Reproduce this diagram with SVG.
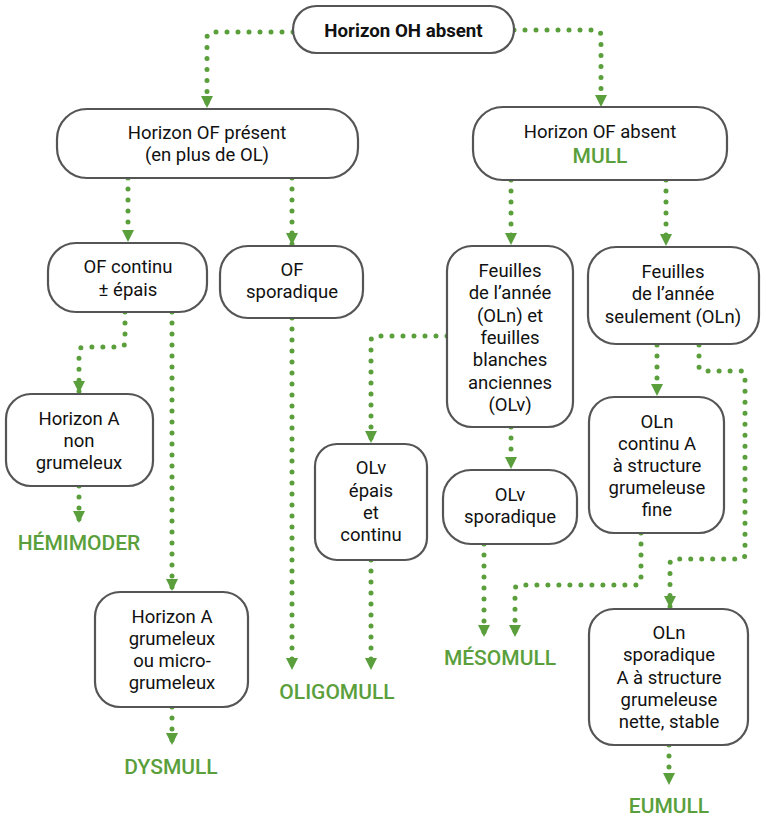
<svg xmlns="http://www.w3.org/2000/svg" width="766" height="818" viewBox="0 0 766 818">
<style>
.box{fill:#fff;stroke:#555;stroke-width:2.2}
.t{font-family:Roboto,"Liberation Sans",sans-serif;font-size:18.5px;fill:#111;text-anchor:middle}
.tb{font-family:Roboto,"Liberation Sans",sans-serif;font-size:18.7px;font-weight:bold;fill:#111;text-anchor:middle}
.g{font-family:Roboto,"Liberation Sans",sans-serif;font-size:21px;font-weight:500;fill:#5a9f3c;text-anchor:middle}
.c{fill:none;stroke:#5a9f3c;stroke-width:5;stroke-linecap:round;stroke-dasharray:0 11;marker-end:url(#ah)}
</style>
<defs>
<marker id="ah" viewBox="0 0 10 10" refX="10" refY="5" markerWidth="12" markerHeight="12" markerUnits="userSpaceOnUse" orient="auto">
<path d="M0,0 L10,5 L0,10 z" fill="#5a9f3c"/>
</marker>
</defs>
<rect width="766" height="818" fill="#fff"/>
<g id="connectors">
<path class="c" d="M293,32 H213 Q207,32 207,38 V108"/>
<path class="c" d="M514,30 H595 Q601,30 601,36 V107"/>
<path class="c" d="M128,178 V242"/>
<path class="c" d="M292,178 V245"/>
<path class="c" d="M511,180 V245"/>
<path class="c" d="M666,180 V246"/>
<path class="c" d="M125,312 V342 Q125,347 120,347 H84 Q79,347 79,352 V393"/>
<path class="c" d="M172,312 V591"/>
<path class="c" d="M79,486 V523"/>
<path class="c" d="M292,318 V670"/>
<path class="c" d="M447,336 H376 Q371,336 371,341 V443"/>
<path class="c" d="M511,427 V469"/>
<path class="c" d="M371,560 V670"/>
<path class="c" d="M484,544 V637"/>
<path class="c" d="M641,533 V580 Q641,585 636,585 H520 Q515,585 515,590 V637"/>
<path class="c" d="M657,345 V396"/>
<path class="c" d="M699,345 V366 Q699,371 704,371 H740 Q745,371 745,376 V554 Q745,559 740,559 H675 Q670,559 670,564 V608"/>
<path class="c" d="M172,707 V745"/>
<path class="c" d="M669,745 V785"/>
</g>
<g id="n-oh"><rect class="box" x="293" y="6" width="221" height="47" rx="23.5"/><text class="tb" x="403.5" y="37">Horizon OH absent</text></g>
<g id="n-of-present"><rect class="box" x="57" y="109" width="301" height="69" rx="30"/><text class="t" x="207" y="139">Horizon OF présent</text><text class="t" x="207" y="161">(en plus de OL)</text></g>
<g id="n-of-absent"><rect class="box" x="473" y="107" width="254" height="73" rx="30"/><text class="t" x="600" y="138">Horizon OF absent</text><text class="g" x="600" y="163">MULL</text></g>
<g id="n-of-continu"><rect class="box" x="48" y="243" width="159" height="69" rx="28"/><text class="t" x="128" y="273">OF continu</text><text class="t" x="128" y="296">± épais</text></g>
<g id="n-of-sporadique"><rect class="box" x="220" y="246" width="143" height="72" rx="28"/><text class="t" x="292" y="276">OF</text><text class="t" x="292" y="298">sporadique</text></g>
<g id="n-feuilles-olv"><rect class="box" x="447" y="246" width="126" height="181" rx="25"/><text class="t" x="510" y="277">Feuilles</text><text class="t" x="510" y="299">de l’année</text><text class="t" x="510" y="322">(OLn) et</text><text class="t" x="510" y="344">feuilles</text><text class="t" x="510" y="366">blanches</text><text class="t" x="510" y="389">anciennes</text><text class="t" x="510" y="411">(OLv)</text></g>
<g id="n-feuilles-oln"><rect class="box" x="588" y="247" width="171" height="97" rx="28"/><text class="t" x="673" y="278">Feuilles</text><text class="t" x="673" y="300">de l’année</text><text class="t" x="673" y="323">seulement (OLn)</text></g>
<g id="n-a-non"><rect class="box" x="6" y="394" width="147" height="92" rx="25"/><text class="t" x="79" y="425">Horizon A</text><text class="t" x="79" y="447">non</text><text class="t" x="79" y="469">grumeleux</text></g>
<g id="l-hemimoder"><text class="g" x="79" y="550">HÉMIMODER</text></g>
<g id="n-a-grum"><rect class="box" x="95" y="592" width="153" height="115" rx="25"/><text class="t" x="172" y="623">Horizon A</text><text class="t" x="172" y="645">grumeleux</text><text class="t" x="172" y="667">ou micro-</text><text class="t" x="172" y="689">grumeleux</text></g>
<g id="l-dysmull"><text class="g" x="171" y="774">DYSMULL</text></g>
<g id="l-oligomull"><text class="g" x="337" y="699">OLIGOMULL</text></g>
<g id="n-olv-epais"><rect class="box" x="315" y="444" width="112" height="116" rx="22"/><text class="t" x="371" y="474">OLv</text><text class="t" x="371" y="497">épais</text><text class="t" x="371" y="519">et</text><text class="t" x="371" y="541">continu</text></g>
<g id="n-olv-spor"><rect class="box" x="443" y="470" width="134" height="74" rx="28"/><text class="t" x="510" y="501">OLv</text><text class="t" x="510" y="523">sporadique</text></g>
<g id="l-mesomull"><text class="g" x="500" y="665">MÉSOMULL</text></g>
<g id="n-oln-continu"><rect class="box" x="589" y="397" width="135" height="136" rx="25"/><text class="t" x="657" y="428">OLn</text><text class="t" x="657" y="450">continu A</text><text class="t" x="657" y="472">à structure</text><text class="t" x="657" y="494">grumeleuse</text><text class="t" x="657" y="516">fine</text></g>
<g id="n-oln-spor"><rect class="box" x="589" y="609" width="159" height="136" rx="25"/><text class="t" x="669" y="639">OLn</text><text class="t" x="669" y="661">sporadique</text><text class="t" x="669" y="684">A à structure</text><text class="t" x="669" y="706">grumeleuse</text><text class="t" x="669" y="728">nette, stable</text></g>
<g id="l-eumull"><text class="g" x="669" y="813">EUMULL</text></g>
</svg>
